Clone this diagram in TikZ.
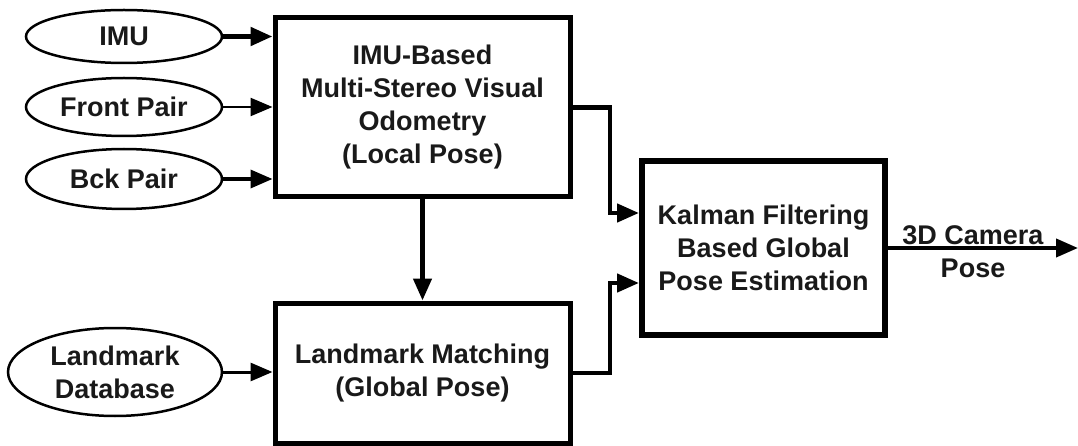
\documentclass[tikz,border=0pt]{standalone}
\usepackage{fontspec}
\setmainfont{Liberation Sans}
\usetikzlibrary{arrows.meta,shapes.geometric}
\begin{document}
\begin{tikzpicture}[x=1pt,y=-1pt,
  every node/.style={font=\fontsize{27}{33}\selectfont\bfseries, text=black!90},
  src/.style={ellipse, draw, line width=2.5pt, inner sep=0pt, minimum width=196pt, minimum height=56pt, align=center},
  blk/.style={draw, line width=5pt, inner sep=0pt, align=center},
  conn/.style={line width=4.5pt, -{Triangle[length=22pt,width=18pt]}},
  feed/.style={line width=3pt, -{Triangle[length=22pt,width=18pt]}},
  lbl/.style={inner sep=0pt}]
\useasboundingbox (0,0) rectangle (1078,446);

% processing blocks
\node[blk, minimum width=295pt, minimum height=179pt] (b1) at (422.5,107.5)
  {IMU-Based\\Multi-Stereo Visual\\Odometry\\(Local Pose)};
\node[blk, minimum width=295pt, minimum height=140pt] (b2) at (422.5,373)
  {Landmark Matching\\(Global Pose)};
\node[blk, line width=6pt, minimum width=243pt, minimum height=174pt] (kal) at (763.5,248)
  {Kalman Filtering\\Based Global\\Pose Estimation};

% sensor inputs
\node[src, minimum height=53pt] (imu) at (124,36.5) {IMU};
\node[src, minimum height=58pt] (front) at (124,107) {Front Pair};
\node[src, minimum height=60pt] (bck) at (124,179) {Bck Pair};
\node[src, minimum width=214pt, minimum height=88pt] (db) at (115,372) {Landmark\\Database};

\draw[feed, line width=5pt] (imu.east) -- (imu.east -| b1.west);
\draw[feed, line width=2.5pt] (front.east) -- (front.east -| b1.west);
\draw[feed, line width=3.5pt] (bck.east) -- (bck.east -| b1.west);
\draw[feed] (db.east) -- (db.east -| b2.west);

% block connections
\draw[conn] (b1) -- (b2);
\coordinate (up) at (610,213);
\coordinate (lo) at (610,283);
\draw[conn] (b1.east) -| (up) -- (up -| kal.west);
\draw[conn] (b2.east) -| (lo) -- (lo -| kal.west);

% output
\coordinate (out) at (1078,248);
\draw[conn, line width=4pt] (kal.east) -- (out);
\node[lbl] (cam) at (973,235) {3D Camera};
\node[lbl] (pose) at (973,268) {Pose};
\end{tikzpicture}
\end{document}
